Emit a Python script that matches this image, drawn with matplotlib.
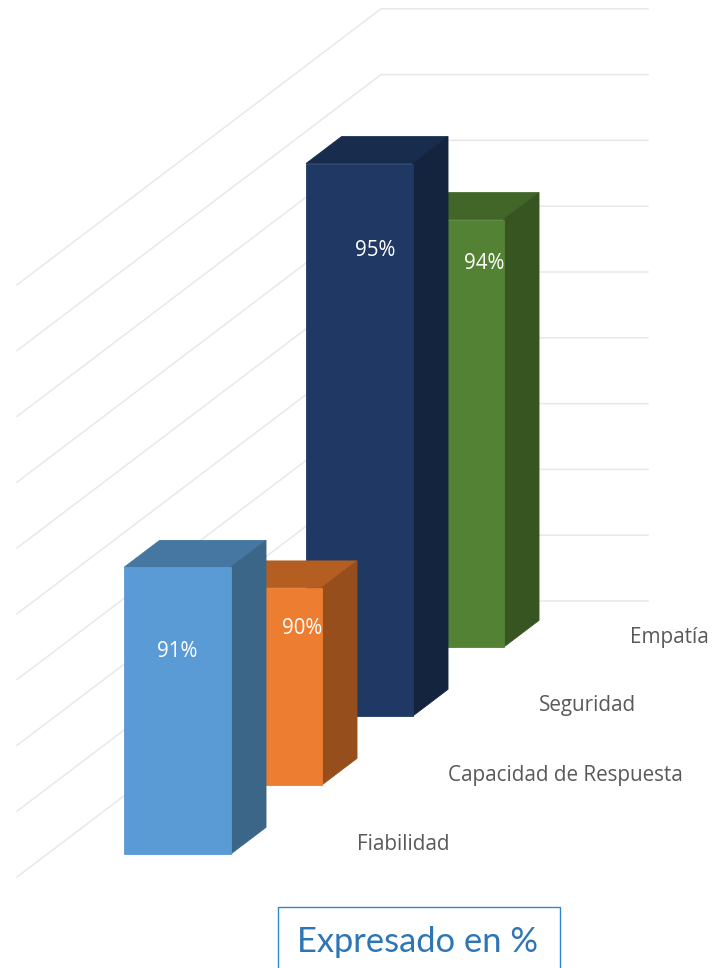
import matplotlib
matplotlib.use("Agg")
import matplotlib.pyplot as plt
from matplotlib.patches import Polygon, Rectangle

# ---- data ----
categories = ["Fiabilidad", "Capacidad de Respuesta", "Seguridad", "Empatía"]
values = [91.36, 90.0, 95.4, 93.5]
value_labels = ["91%", "90%", "95%", "94%"]
axis_min = 87
axis_max = 96
grid_values = list(range(87, 97))
caption = "Expresado en %"

# ---- style ----
front = ["#5B9BD5", "#ED7D31", "#1F3864", "#548235"]
top = ["#4677A3", "#B55E22", "#182C4E", "#426528"]
side = ["#3C6688", "#964F1C", "#14243F", "#375520"]
label_dx = [0, 33.5, 15.5, 34]
label_dy = [84, 40, 86, 43]

W, H = 714, 968
fig = plt.figure(figsize=(W / 100, H / 100), dpi=100)
ax = fig.add_axes([0, 0, 1, 1])
ax.set_xlim(0, W)
ax.set_ylim(H, 0)
ax.axis("off")

# oblique projection of the 3D chart: u across, d depth, z value
X0, Y0 = 17.0, 877.0
WIDTH_PX = 267.0
STEP_X, STEP_Y = 91.0, 69.0
Z_PX = 65.8


def proj(u, d, z):
    return (X0 + WIDTH_PX * u + STEP_X * d,
            Y0 - STEP_Y * d - Z_PX * (z - axis_min))


n = len(categories)
GRID = "#E8E8E8"
for g in grid_values:
    a, b, c = proj(0, 0, g), proj(0, n, g), proj(1, n, g)
    ax.plot([a[0], b[0], c[0]], [a[1], b[1], c[1]], color=GRID, lw=1.1, zorder=1,
            solid_joinstyle="miter")

BAR_U = 106.5 / WIDTH_PX
U0 = 77.0 / WIDTH_PX
D_FRONT = 0.33
D_DEPTH = 0.39

for i in reversed(range(n)):
    v = values[i]
    u0, u1 = U0, U0 + BAR_U
    d0 = i + D_FRONT
    d1 = d0 + D_DEPTH
    z0 = axis_min
    zo = 10 + (n - i)
    edge_kw = dict(lw=0.6, zorder=zo)
    ax.add_patch(Polygon([proj(u0, d0, v), proj(u1, d0, v), proj(u1, d1, v), proj(u0, d1, v)],
                         closed=True, facecolor=top[i], edgecolor=top[i], **edge_kw))
    ax.add_patch(Polygon([proj(u1, d0, z0), proj(u1, d1, z0), proj(u1, d1, v), proj(u1, d0, v)],
                         closed=True, facecolor=side[i], edgecolor=side[i], **edge_kw))
    ax.add_patch(Polygon([proj(u0, d0, z0), proj(u1, d0, z0), proj(u1, d0, v), proj(u0, d0, v)],
                         closed=True, facecolor=front[i], edgecolor=front[i], **edge_kw))

for i in range(n):
    cx, ty = proj(U0 + BAR_U / 2, i + D_FRONT, values[i])
    ax.text(cx + label_dx[i], ty + label_dy[i] + 0.5, value_labels[i], color="white",
            ha="center", va="center", fontsize=14.8, family="Open Sans", zorder=30)
    lx, ly = proj(1, i + 0.5, axis_min)
    ax.text(lx + 27.5, ly + 1.5, categories[i], color="#595959", ha="left", va="center",
            fontsize=14.9, family="Open Sans", zorder=30)

ax.add_patch(Rectangle((277.5, 906.5), 282, 80, facecolor="white", edgecolor="#2E86D0",
                       lw=1.0, zorder=5, clip_on=True))
ax.text(417.5, 952, caption, color="#2E75B6", ha="center", va="baseline",
        fontsize=24.8, family="Lato", zorder=30)

fig.savefig("out.png", dpi=100)
